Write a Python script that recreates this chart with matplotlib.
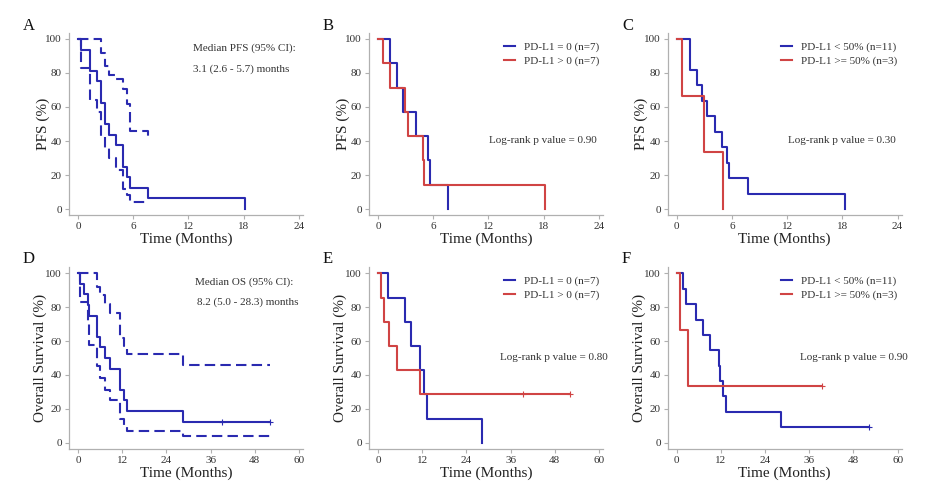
import matplotlib.pyplot as plt

plt.rcParams['font.family'] = ['Liberation Serif', 'DejaVu Serif']

BLUE = '#2a2ab0'
RED = '#d04444'

# ---- Panel A: overall PFS with 95% CI ----
a_t = [0, 0.36, 1.34, 2.06, 2.53, 2.89, 3.32, 4.11, 4.94, 5.3, 5.67, 7.65, 18.2]
a_s = [100, 93.75, 81.25, 75, 62.5, 50, 43.75, 37.5, 25, 18.75, 12.5, 6.25, 0]
a_ci_t = [0, 0.36, 1.34, 2.06, 2.53, 2.89, 3.32, 4.11, 4.94, 5.3, 5.67, 7.65, 7.7]
a_hi = [100, 100, 100, 100, 92, 84, 79, 76.5, 70.6, 62, 46, 42.5, 42.5]
a_lo = [100, 83, 64, 57, 43, 36, 30, 23, 11.5, 8, 3.9, 3.9, 3.9]

# ---- Panel B: PFS by PD-L1 = 0 / > 0 ----
b_t0 = [0, 1.34, 2.06, 2.68, 4.09, 5.39, 5.6, 7.6]
b_s0 = [100, 85.7, 71.4, 57.1, 42.9, 28.6, 14.3, 0]
b_t1 = [0, 0.54, 1.27, 2.9, 3.26, 4.85, 5.0, 18.2]
b_s1 = [100, 85.7, 71.4, 57.1, 42.9, 28.6, 14.3, 0]

# ---- Panel C: PFS by PD-L1 < 50% / >= 50% ----
c_t0 = [0, 1.4, 2.16, 2.7, 3.3, 4.14, 4.94, 5.48, 5.66, 7.71, 18.27]
c_s0 = [100, 81.8, 72.7, 63.6, 54.5, 45.5, 36.4, 27.3, 18.2, 9.1, 0]
c_t1 = [0, 0.61, 2.95, 5.05]
c_s1 = [100, 66.7, 33.3, 0]

# ---- Panel D: overall OS with 95% CI ----
d_t = [0, 0.63, 1.54, 2.62, 3.07, 5.15, 6.05, 7.23, 8.76, 11.3, 12.4, 13.3, 28.4, 52.1]
d_s = [100, 93.75, 87.5, 81.25, 75, 62.5, 56.25, 50, 43.75, 31.25, 25, 18.75, 12.5, 12.5]
d_hi = [100, 100, 100, 100, 100, 92, 87, 82, 76.4, 62, 57, 52.2, 45.9, 45.9]
d_lo = [100, 83, 83, 70, 57.7, 45, 38, 31, 25, 14, 10, 7, 3.7, 3.7]
d_cens = [39.0, 52.1]

# ---- Panel E: OS by PD-L1 = 0 / > 0 ----
e_t0 = [0, 2.62, 7.24, 8.96, 11.5, 12.4, 13.3, 28.2]
e_s0 = [100, 85.7, 71.4, 57.1, 42.9, 28.6, 14.3, 0]
e_t1 = [0, 0.81, 1.54, 3.08, 5.16, 11.5, 52.2]
e_s1 = [100, 85.7, 71.4, 57.1, 42.9, 28.6, 28.6]
e_cens1 = [39.3, 52.2]

# ---- Panel F: OS by PD-L1 < 50% / >= 50% ----
f_t0 = [0, 1.8, 2.44, 5.14, 7.22, 9.03, 11.46, 11.7, 12.6, 13.5, 28.4, 52.1]
f_s0 = [100, 90.9, 81.8, 72.7, 63.6, 54.5, 45.5, 36.4, 27.3, 18.2, 9.1, 9.1]
f_t1 = [0, 0.81, 3.16, 39.4]
f_s1 = [100, 66.7, 33.3, 33.3]

fig = plt.figure(figsize=(9.37, 4.97), dpi=100)

lefts = [69, 369, 667.7]
W = 937.0
H = 497.0
axes = {}
for r, (top, bot) in enumerate([(33, 215), (266.7, 449)]):
    for c, left in enumerate(lefts):
        ax = fig.add_axes([left / W, (H - bot) / H, 234 / W, (bot - top) / H])
        axes[(r, c)] = ax
        for s in ['top', 'right']:
            ax.spines[s].set_visible(False)
        for s in ['left', 'bottom']:
            ax.spines[s].set_color('#b0b0b0')
            ax.spines[s].set_linewidth(0.9)
        ax.tick_params(colors='#b0b0b0', labelcolor='#333333', labelsize=8, length=3, width=0.8, pad=2)
        ax.set_yticks([0, 20, 40, 60, 80, 100])
        if r == 0:
            ax.set_xlim(-0.98, 24.45)
            ax.set_ylim(-3.5, 103.5)
            ax.set_xticks([0, 6, 12, 18, 24])
            ax.set_ylabel('PFS (%)', fontsize=11, color='#222222')
            ax.yaxis.set_label_coords(-0.083, 0.5)
        else:
            ax.set_xlim(-2.44, 61.1)
            ax.set_ylim(-3.7, 103.9)
            ax.set_xticks([0, 12, 24, 36, 48, 60])
            ax.set_ylabel('Overall Survival (%)', fontsize=11, color='#222222')
            ax.yaxis.set_label_coords(-0.092, 0.5)
        ax.set_xlabel('Time (Months)', fontsize=11, color='#222222', labelpad=1)

lw = 1.5
dash = (0, (5, 2.5))

# A
ax = axes[(0, 0)]
ax.step(a_t, a_s, where='post', color=BLUE, lw=lw)
ax.step(a_ci_t, a_hi, where='post', color=BLUE, lw=lw, linestyle=dash)
ax.step(a_ci_t, a_lo, where='post', color=BLUE, lw=lw, linestyle=dash)
ax.text(12.5, 94.5, 'Median PFS (95% CI):', fontsize=8, color='#333333', va='center')
ax.text(12.5, 82.5, '3.1 (2.6 - 5.7) months', fontsize=8, color='#333333', va='center')

# B
ax = axes[(0, 1)]
ax.step(b_t0, b_s0, where='post', color=BLUE, lw=lw, label='PD-L1 = 0 (n=7)')
ax.step(b_t1, b_s1, where='post', color=RED, lw=lw, label='PD-L1 > 0 (n=7)')
ax.text(17.9, 40.5, 'Log-rank p value = 0.90', fontsize=8, color='#333333', ha='center', va='center')

# C
ax = axes[(0, 2)]
ax.step(c_t0, c_s0, where='post', color=BLUE, lw=lw, label='PD-L1 < 50% (n=11)')
ax.step(c_t1, c_s1, where='post', color=RED, lw=lw, label='PD-L1 >= 50% (n=3)')
ax.text(18.0, 40.5, 'Log-rank p value = 0.30', fontsize=8, color='#333333', ha='center', va='center')

# D
ax = axes[(1, 0)]
ax.step(d_t, d_s, where='post', color=BLUE, lw=lw)
ax.step(d_t, d_hi, where='post', color=BLUE, lw=lw, linestyle=dash)
ax.step(d_t, d_lo, where='post', color=BLUE, lw=lw, linestyle=dash)
ax.plot(d_cens, [12.5] * len(d_cens), '+', color=BLUE, ms=4, mew=0.8)
ax.text(31.8, 95, 'Median OS (95% CI):', fontsize=8, color='#333333', va='center')
ax.text(32.4, 83.2, '8.2 (5.0 - 28.3) months', fontsize=8, color='#333333', va='center')

# E
ax = axes[(1, 1)]
ax.step(e_t0, e_s0, where='post', color=BLUE, lw=lw, label='PD-L1 = 0 (n=7)')
ax.step(e_t1, e_s1, where='post', color=RED, lw=lw, label='PD-L1 > 0 (n=7)')
ax.plot(e_cens1, [28.6] * len(e_cens1), '+', color=RED, ms=4, mew=0.8)
ax.text(47.7, 50.2, 'Log-rank p value = 0.80', fontsize=8, color='#333333', ha='center', va='center')

# F
ax = axes[(1, 2)]
ax.step(f_t0, f_s0, where='post', color=BLUE, lw=lw, label='PD-L1 < 50% (n=11)')
ax.step(f_t1, f_s1, where='post', color=RED, lw=lw, label='PD-L1 >= 50% (n=3)')
ax.plot([f_t0[-1]], [f_s0[-1]], '+', color=BLUE, ms=4, mew=0.8)
ax.plot([f_t1[-1]], [f_s1[-1]], '+', color=RED, ms=4, mew=0.8)
ax.text(48.0, 50.2, 'Log-rank p value = 0.90', fontsize=8, color='#333333', ha='center', va='center')

# legends
for key, x0 in [((0, 1), 0.55), ((0, 2), 0.457), ((1, 1), 0.55), ((1, 2), 0.457)]:
    axes[key].legend(loc='upper left', bbox_to_anchor=(x0, 0.986), frameon=False, fontsize=8,
                     handlelength=1.0, handletextpad=0.8, labelspacing=0.35, borderaxespad=0.2,
                     labelcolor='#333333')

# panel letters
for letter, (px, py) in zip('ABCDEF', [(23, 30), (323, 30), (622, 30), (23, 263), (323, 263), (622, 263)]):
    fig.text(px / W, 1 - py / H, letter, fontsize=12, color='#111111', ha='left', va='baseline')

fig.savefig('out.png', dpi=100, facecolor='white')
